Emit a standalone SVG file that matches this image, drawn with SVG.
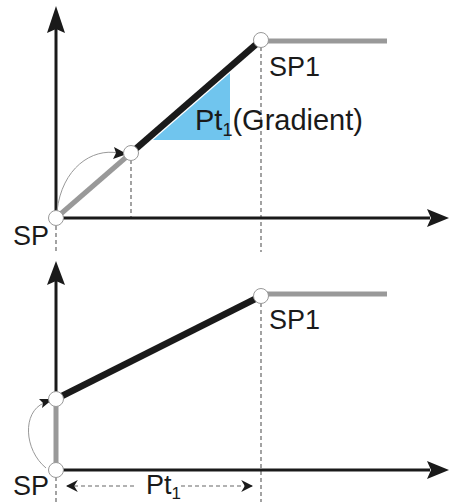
<svg xmlns="http://www.w3.org/2000/svg" width="449" height="502" viewBox="0 0 449 502">
<defs>
<style>
.axis{stroke:#1a1a1a;stroke-width:3;fill:none}
.ahead{fill:#1a1a1a}
.gray{stroke:#999;stroke-width:5;fill:none}
.blk{stroke:#1a1a1a;stroke-width:6.5;fill:none}
.dash{stroke:#666;stroke-width:1.2;stroke-dasharray:4 3;fill:none}
.thin{stroke:#999;stroke-width:1;fill:none}
.pt{fill:#fff;stroke:#999;stroke-width:1}
.lbl{font-family:"Liberation Sans",Arial,sans-serif;font-size:27px;fill:#1a1a1a}
</style>
<marker id="sm" viewBox="0 0 10 10" refX="9" refY="5" markerWidth="12" markerHeight="12" markerUnits="userSpaceOnUse" orient="auto-start-reverse">
<path d="M0,0 L10,5 L0,10 L3,5 z" fill="#1a1a1a"/>
</marker>
</defs>
<g id="connectors">
<!-- top panel -->
<line class="dash" x1="56" y1="226" x2="56" y2="252"/>
<line class="dash" x1="131" y1="160" x2="131" y2="218"/>
<line class="dash" x1="261" y1="47" x2="261" y2="252"/>
<polygon fill="#70C5EE" points="153,140 230,73 230,140"/>
<line class="axis" x1="56" y1="218" x2="56" y2="28"/>
<path class="ahead" d="M56,6 L65,33 L56,29 L47,33 z"/>
<line class="axis" x1="56" y1="218" x2="430" y2="218"/>
<path class="ahead" d="M449,218 L427,227 L431,218 L427,209 z"/>
<line class="gray" x1="56" y1="218" x2="131" y2="153"/>
<line class="blk" x1="131" y1="153" x2="261" y2="40"/>
<line class="gray" x1="261" y1="41" x2="387" y2="41"/>
<path class="thin" d="M57,211 C62,168 92,148 118,153"/>
<path class="ahead" d="M127,154 L114,147 L116,153 L113,159 z"/>
<!-- bottom panel -->
<line class="dash" x1="56" y1="477" x2="56" y2="502"/>
<line class="dash" x1="261" y1="303" x2="261" y2="502"/>
<line class="axis" x1="56" y1="470" x2="56" y2="278"/>
<path class="ahead" d="M56,261 L65,285 L56,281 L47,285 z"/>
<line class="axis" x1="56" y1="470" x2="430" y2="470"/>
<path class="ahead" d="M449,470 L427,479 L431,470 L427,461 z"/>
<line class="gray" x1="56" y1="470" x2="56" y2="399"/>
<line class="blk" x1="56" y1="399" x2="261" y2="296"/>
<line class="gray" x1="261" y1="294" x2="387" y2="294"/>
<path class="thin" d="M46,468 C24,450 22,412 44,403"/>
<path class="ahead" d="M53,399 L39,399 L43,403 L42,408 z"/>
<line class="dash" x1="67" y1="486" x2="136" y2="486" marker-start="url(#sm)"/>
<line class="dash" x1="181" y1="486" x2="252" y2="486" marker-end="url(#sm)"/>
</g>
<g id="n-sp-top"><circle class="pt" cx="56" cy="218" r="7.5"/><text class="lbl" x="13" y="245">SP</text></g>
<g id="n-mid-top"><circle class="pt" cx="131" cy="153" r="7.5"/></g>
<g id="n-sp1-top"><circle class="pt" cx="261" cy="40" r="7.5"/><text class="lbl" x="269" y="76">SP1</text></g>
<g id="n-gradient"><text class="lbl" x="195" y="130" style="font-size:29px">Pt<tspan style="font-size:18px" dy="6">1</tspan><tspan dy="-6">(Gradient)</tspan></text></g>
<g id="n-sp-bot"><circle class="pt" cx="56" cy="470" r="7.5"/><text class="lbl" x="13" y="495">SP</text></g>
<g id="n-mid-bot"><circle class="pt" cx="56" cy="399" r="7.5"/></g>
<g id="n-sp1-bot"><circle class="pt" cx="261" cy="296" r="7.5"/><text class="lbl" x="269" y="329">SP1</text></g>
<g id="n-pt1"><text class="lbl" x="146" y="494">Pt<tspan style="font-size:17px" dy="5">1</tspan></text></g>
</svg>
